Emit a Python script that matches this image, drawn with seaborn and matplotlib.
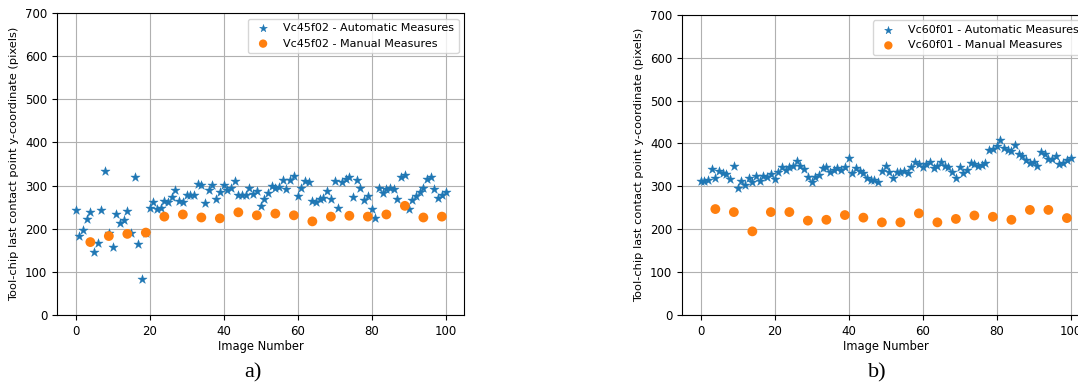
import numpy as np
import pandas as pd
import matplotlib
matplotlib.use("Agg")
import matplotlib.pyplot as plt
import seaborn as sns

# Vc45f02 - valores lidos do gráfico a)
auto_45 = [243, 184, 197, 223, 238, 147, 168, 243, 334, 191,
           157, 233, 214, 220, 242, 191, 319, 164, 84, 191,
           248, 262, 245, 247, 264, 262, 273, 289, 264, 262,
           277, 277, 277, 304, 301, 260, 289, 301, 269, 284,
           301, 290, 295, 310, 277, 277, 277, 295, 280, 287,
           253, 269, 282, 299, 295, 297, 312, 293, 312, 322,
           275, 295, 310, 309, 264, 263, 270, 272, 287, 268,
           310, 249, 309, 315, 319, 274, 312, 295, 267, 276,
           246, 224, 295, 282, 292, 295, 293, 268, 319, 325,
           246, 266, 276, 284, 295, 316, 320, 292, 271, 279,
           286]
manual_45 = [169, 183, 188, 191, 228, 233, 226, 224, 238, 231,
             235, 231, 217, 228, 230, 228, 233, 253, 226, 228]

# Vc60f01 - valores lidos do gráfico b)
auto_60 = [313, 313, 315, 340, 319, 336, 332, 329, 317, 348,
           296, 312, 303, 319, 310, 323, 313, 323, 322, 329,
           317, 334, 346, 338, 346, 348, 359, 348, 340, 321,
           311, 321, 327, 342, 346, 334, 338, 342, 338, 345,
           366, 332, 342, 336, 332, 320, 314, 314, 311, 336,
           348, 334, 319, 334, 334, 336, 332, 345, 356, 352,
           344, 352, 356, 342, 348, 356, 348, 344, 334, 319,
           344, 331, 338, 355, 352, 348, 350, 355, 385, 387,
           393, 408, 389, 385, 383, 397, 376, 371, 362, 355,
           356, 348, 379, 376, 363, 363, 371, 352, 354, 362,
           365]
manual_60 = [247, 240, 195, 240, 240, 220, 222, 233, 227, 216,
             216, 237, 216, 224, 232, 229, 222, 245, 245, 226]

img_auto = np.arange(0, 101)
img_manual = np.arange(4, 100, 5)

fig = plt.figure(figsize=(10.78, 3.91), dpi=100)
ax1 = fig.add_axes([0.0529, 0.1944, 0.3776, 0.7724])
ax2 = fig.add_axes([0.6327, 0.1944, 0.3776, 0.7678])


def desenhar(ax, auto, manual, nome):
    df_a = pd.DataFrame({'Image Number': img_auto, 'y': auto})
    df_m = pd.DataFrame({'Image Number': img_manual, 'y': manual})
    sns.scatterplot(data=df_a, x='Image Number', y='y', marker='*', s=48,
                    color='#1f77b4', edgecolor='#1f77b4', linewidth=0.3,
                    label=f'{nome} - Automatic Measures', ax=ax, zorder=3)
    sns.scatterplot(data=df_m, x='Image Number', y='y', marker='o', s=50,
                    color='#ff7f0e', edgecolor='none',
                    label=f'{nome} - Manual Measures', ax=ax, zorder=3)
    ax.set_ylim(0, 700)
    ax.set_xlim(-5, 105)
    ax.set_xticks([0, 20, 40, 60, 80, 100])
    ax.set_yticks(range(0, 701, 100))
    ax.grid(True, color='#b0b0b0', linewidth=0.8)
    ax.set_axisbelow(True)
    ax.tick_params(labelsize=8.5)
    ax.set_xlabel('Image Number', fontsize=8.3, labelpad=2)
    ax.set_ylabel('Tool-chip last contact point y-coordinate (pixels)', fontsize=8.2)
    ax.legend(loc='upper right', fontsize=8.0, markerscale=0.85)


desenhar(ax1, auto_45, manual_45, 'Vc45f02')
desenhar(ax2, auto_60, manual_60, 'Vc60f01')

fig.text(0.2347, 0.035, 'a)', fontsize=16, family='Liberation Serif', ha='center')
fig.text(0.8135, 0.035, 'b)', fontsize=16, family='Liberation Serif', ha='center')

fig.savefig('out.png', dpi=100)
